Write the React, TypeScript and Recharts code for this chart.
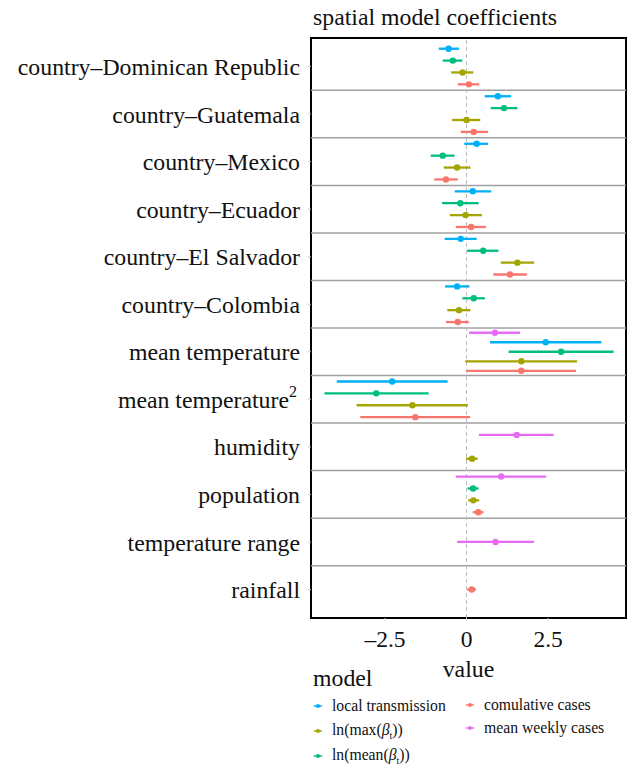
import React from "react";
import {
  ScatterChart,
  Scatter,
  XAxis,
  YAxis,
  ErrorBar,
  ReferenceLine,
  ReferenceArea,
  Legend,
} from "recharts";

// ---------- data ----------
const categories = [
  "country–Dominican Republic",
  "country–Guatemala",
  "country–Mexico",
  "country–Ecuador",
  "country–El Salvador",
  "country–Colombia",
  "mean temperature",
  "mean temperature²",
  "humidity",
  "population",
  "temperature range",
  "rainfall",
];

// model order (ggplot factor order, bottom -> top within each category)
const modelKeys = ["cumulative", "lnMax", "lnMean", "local", "weekly"];
const modelColors = ["#F8766D", "#A3A500", "#00BF7D", "#00B0F6", "#E76BF3"];

const cumulativeEst = [0.07, 0.22, -0.63, 0.14, 1.33, -0.27, 1.68, -1.57, null, 0.36, null, 0.16];
const cumulativeLo = [-0.27, -0.18, -0.99, -0.33, 0.82, -0.63, 0.0, -3.26, null, 0.19, null, 0.02];
const cumulativeHi = [0.39, 0.66, -0.27, 0.59, 1.85, 0.07, 3.36, 0.11, null, 0.52, null, 0.29];

const lnMaxEst = [-0.12, 0.0, -0.29, -0.03, 1.56, -0.23, 1.68, -1.66, 0.17, 0.21, null, null];
const lnMaxLo = [-0.47, -0.44, -0.7, -0.51, 1.05, -0.59, -0.04, -3.37, -0.02, 0.05, null, null];
const lnMaxHi = [0.21, 0.42, 0.12, 0.47, 2.07, 0.12, 3.39, 0.04, 0.34, 0.39, null, null];

const lnMeanEst = [-0.42, 1.15, -0.73, -0.19, 0.51, 0.22, 2.9, -2.77, null, 0.2, null, null];
const lnMeanLo = [-0.73, 0.74, -1.1, -0.75, 0.02, -0.13, 1.29, -4.36, null, 0.03, null, null];
const lnMeanHi = [-0.13, 1.56, -0.37, 0.37, 0.98, 0.56, 4.51, -1.16, null, 0.37, null, null];

const localEst = [-0.55, 0.96, 0.31, 0.19, -0.18, -0.29, 2.43, -2.28, null, null, null, null];
const localLo = [-0.85, 0.56, -0.07, -0.36, -0.67, -0.66, 0.72, -3.98, null, null, null, null];
const localHi = [-0.23, 1.37, 0.66, 0.76, 0.31, 0.09, 4.13, -0.58, null, null, null, null];

const weeklyEst = [null, null, null, null, null, null, 0.87, null, 1.54, 1.06, 0.89, null];
const weeklyLo = [null, null, null, null, null, null, 0.08, null, 0.38, -0.33, -0.29, null];
const weeklyHi = [null, null, null, null, null, null, 1.64, null, 2.67, 2.44, 2.07, null];

const xTicks = [-2.5, 0, 2.5];
const xDomain = [-4.77, 4.89];

// ---------- build series with dodge ----------
const estimates = [cumulativeEst, lnMaxEst, lnMeanEst, localEst, weeklyEst];
const lowers = [cumulativeLo, lnMaxLo, lnMeanLo, localLo, weeklyLo];
const uppers = [cumulativeHi, lnMaxHi, lnMeanHi, localHi, weeklyHi];

const nCat = categories.length;
const catPos = (c: number) => nCat - c;

const series = modelKeys.map((key, m) => {
  const pts: any[] = [];
  categories.forEach((cat, c) => {
    const est = estimates[m][c];
    if (est === null) return;
    const present = estimates.map((e, i) => (e[c] !== null ? i : -1)).filter((i) => i >= 0);
    const n = present.length;
    const j = present.indexOf(m);
    const offset = -0.5 + (j + 0.5) / n;
    pts.push({
      category: cat,
      x: est,
      y: catPos(c) + offset,
      err: [est - (lowers[m][c] as number), (uppers[m][c] as number) - est],
    });
  });
  return { key, color: modelColors[m], data: pts };
});

const FONT = "'Liberation Serif', 'Times New Roman', serif";
const LABEL_SIZE = 23.8;

const YTickWithSup = (props: any) => {
  const { x, y, payload } = props;
  const label = categories[nCat - payload.value] ?? "";
  const sup = label.endsWith("²");
  const base = sup ? label.slice(0, -1) : label;
  const shift = sup ? 11 : 0;
  return (
    <g>
      <text x={x - shift} y={y} dy="0.36em" textAnchor="end" fontFamily={FONT} fontSize={LABEL_SIZE} fill="#111">
        {base}
      </text>
      {sup ? (
        <text x={x - shift} y={y - 8} dy="0.36em" textAnchor="start" fontFamily={FONT} fontSize={16} fill="#111">
          2
        </text>
      ) : null}
    </g>
  );
};

const XTick = (props: any) => {
  const { x, y, payload } = props;
  const v = payload.value;
  const s = v < 0 ? "–" + Math.abs(v) : String(v);
  return (
    <text x={x} y={y} dy="0.71em" textAnchor="middle" fontFamily={FONT} fontSize={23.5} fill="#111">
      {s}
    </text>
  );
};

const legendLabels: Record<string, React.ReactNode> = {
  local: "local transmission",
  lnMax: (
    <span>
      ln(max(<i>β</i>
      <sub style={{ fontSize: 10 }}>t</sub>))
    </span>
  ),
  lnMean: (
    <span>
      ln(mean(<i>β</i>
      <sub style={{ fontSize: 10 }}>t</sub>))
    </span>
  ),
  cumulative: "comulative cases",
  weekly: "mean weekly cases",
};

const legendLayout = [
  { key: "local", left: 13, top: 34 },
  { key: "lnMax", left: 13, top: 59 },
  { key: "lnMean", left: 13, top: 84 },
  { key: "cumulative", left: 165, top: 33 },
  { key: "weekly", left: 165, top: 56 },
];

const LegendBox = () => (
  <div style={{ position: "relative", width: 333, height: 103, fontFamily: FONT, color: "#111" }}>
    <div style={{ position: "absolute", left: 13, top: 5, fontSize: LABEL_SIZE, lineHeight: "23.5px" }}>model</div>
    {legendLayout.map((it) => {
      const s = series.find((q) => q.key === it.key)!;
      return (
        <div
          key={it.key}
          style={{
            position: "absolute",
            left: it.left,
            top: it.top,
            height: 20,
            display: "flex",
            alignItems: "center",
            fontSize: 15.7,
            whiteSpace: "nowrap",
          }}
        >
          <svg width={19} height={8} style={{ flex: "none" }}>
            <line x1={1} y1={4} x2={9} y2={4} stroke={s.color} strokeWidth={1.5} />
            <circle cx={5} cy={4} r={2} fill={s.color} />
          </svg>
          <span>{legendLabels[it.key]}</span>
        </div>
      );
    })}
  </div>
);

export default function App() {
  return (
    <div style={{ position: "absolute", left: 0, top: 0, width: 633, height: 765, background: "#fff" }}>
      <ScatterChart width={633} height={765} margin={{ top: 38, right: 7, bottom: 0, left: 0 }}>
        <text x={313} y={25} fontFamily={FONT} fontSize={LABEL_SIZE} fill="#111">
          spatial model coefficients
        </text>
        <XAxis
          type="number"
          dataKey="x"
          domain={xDomain}
          allowDataOverflow
          ticks={xTicks}
          height={147}
          axisLine={false}
          tickLine={{ stroke: "#d0d0d0" }}
          tickSize={3}
          tickMargin={9}
          tick={<XTick />}
          label={{ value: "value", position: "insideTop", offset: 42, fontFamily: FONT, fontSize: LABEL_SIZE, fill: "#111" }}
        />
        <YAxis
          type="number"
          dataKey="y"
          domain={[0.4, nCat + 0.6]}
          allowDataOverflow
          ticks={categories.map((_, c) => catPos(c))}
          width={311}
          axisLine={false}
          tickLine={{ stroke: "#c8c8c8" }}
          tickSize={3}
          tickMargin={8}
          tick={<YTickWithSup />}
          interval={0}
        />
        {categories.slice(1).map((_, i) => (
          <ReferenceLine key={"sep" + i} y={i + 1.5} stroke="#a0a0a0" strokeWidth={1.5} />
        ))}
        <ReferenceLine x={0} stroke="#bdbdbd" strokeDasharray="4 3" strokeWidth={1} />
        {series.map((s) => (
          <Scatter
            key={s.key}
            name={s.key}
            data={s.data}
            fill={s.color}
            isAnimationActive={false}
            shape={(p: any) => <circle cx={p.cx} cy={p.cy} r={3.2} fill={s.color} />}
          >
            <ErrorBar dataKey="err" direction="x" width={0} stroke={s.color} strokeWidth={2.3} />
          </Scatter>
        ))}
        <ReferenceArea
          x1={xDomain[0]}
          x2={xDomain[1]}
          y1={0.4}
          y2={nCat + 0.6}
          fill="none"
          fillOpacity={0}
          stroke="#000"
          strokeWidth={2}
          ifOverflow="visible"
        />
        <Legend
          layout="horizontal"
          verticalAlign="middle"
          align="center"
          wrapperStyle={{ position: "absolute", left: 300, top: 662, width: 333, height: 103 }}
          content={() => <LegendBox />}
        />
      </ScatterChart>
    </div>
  );
}
